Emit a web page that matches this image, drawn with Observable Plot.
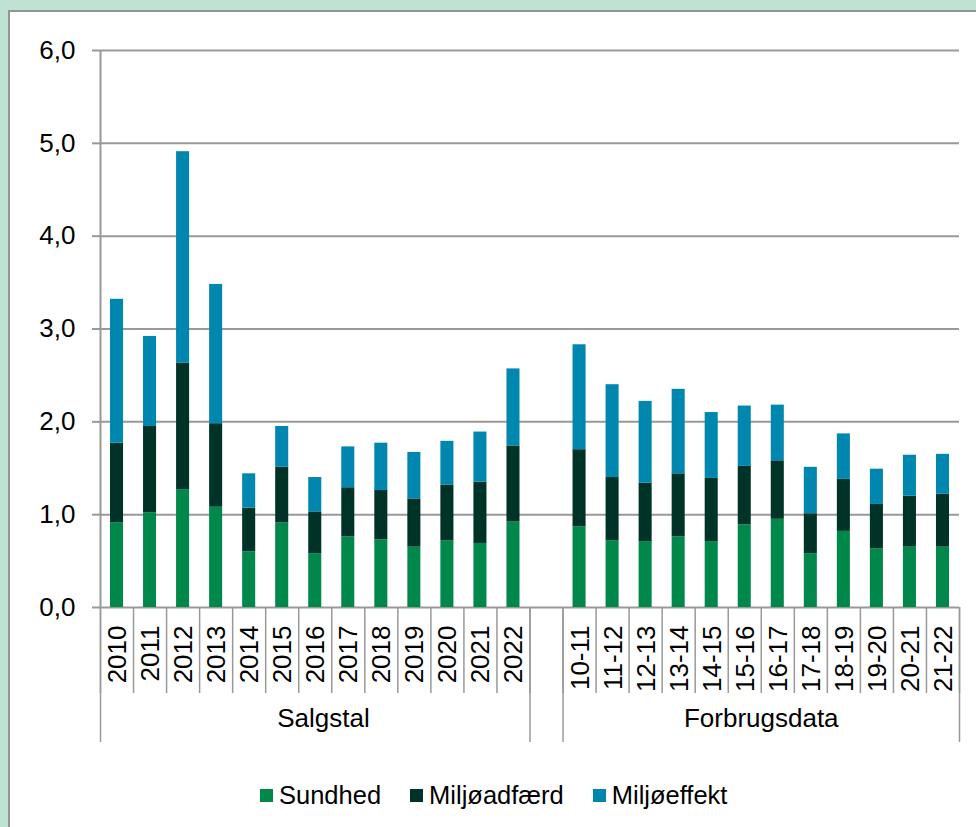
<!DOCTYPE html>
<html><head><meta charset="utf-8">
<script src="https://cdn.jsdelivr.net/npm/d3@7"></script>
<script src="https://cdn.jsdelivr.net/npm/@observablehq/plot@0.6"></script>
<style>
html,body{margin:0;padding:0;width:976px;height:827px;overflow:hidden;background:#bfe3d3;font-family:"Liberation Sans",Arial,sans-serif;}
#panel{position:absolute;left:8px;top:10px;right:0;bottom:0;background:#fff;border-left:2px solid #959595;border-top:2px solid #959595;}
#chart{position:absolute;left:0;top:0;}
#legend{position:absolute;left:260px;top:781px;display:flex;gap:29px;font-size:25.5px;color:#000;}
.item{display:flex;align-items:center;}
.sw{width:13px;height:13px;margin-right:6px;}
</style></head>
<body>
<div id="panel"></div>
<div id="chart"></div>
<div id="legend"></div>
<script>
// ---- data ----
const seriesNames = ["Sundhed", "Miljøadfærd", "Miljøeffekt"];
const seriesColors = ["#00884b", "#003328", "#0087af"];
const groupNames = ["Salgstal", "Forbrugsdata"];

const salgstalYears = ["2010","2011","2012","2013","2014","2015","2016","2017","2018","2019","2020","2021","2022"];
const salgSundhed     = [0.91,1.02,1.27,1.08,0.60,0.91,0.58,0.76,0.73,0.65,0.72,0.69,0.92];
const salgMiljoadfaerd = [0.86,0.93,1.36,0.90,0.47,0.60,0.45,0.53,0.53,0.52,0.60,0.66,0.82];
const salgMiljoeffekt  = [1.55,0.97,2.28,1.50,0.37,0.44,0.37,0.44,0.51,0.50,0.47,0.54,0.83];

const forbrugPeriods = ["10-11","11-12","12-13","13-14","14-15","15-16","16-17","17-18","18-19","19-20","20-21","21-22"];
const forbSundhed      = [0.87,0.72,0.71,0.76,0.71,0.89,0.95,0.58,0.82,0.63,0.65,0.65];
const forbMiljoadfaerd = [0.83,0.68,0.63,0.68,0.68,0.63,0.63,0.43,0.56,0.48,0.55,0.57];
const forbMiljoeffekt  = [1.13,1.00,0.88,0.91,0.71,0.65,0.60,0.50,0.49,0.38,0.44,0.43];

const yTicks = [0,1,2,3,4,5,6];

// ---- build table ----
const categories = [...salgstalYears, "", ...forbrugPeriods];
const data = [];
function addGroup(labels, vals, offset) {
  labels.forEach((c, k) => {
    seriesNames.forEach((s, j) => {
      data.push({i: offset + k, cat: c, series: s, value: vals[j][k]});
    });
  });
}
addGroup(salgstalYears, [salgSundhed, salgMiljoadfaerd, salgMiljoeffekt], 0);
addGroup(forbrugPeriods, [forbSundhed, forbMiljoadfaerd, forbMiljoeffekt], salgstalYears.length + 1);

const labelData = categories.map((c, i) => ({i, cat: c})).filter(d => d.cat !== "");
const groups = [
  {name: groupNames[0], start: 0, end: salgstalYears.length, labelSpanEnd: salgstalYears.length + 0.5},
  {name: groupNames[1], start: salgstalYears.length + 1, end: categories.length, labelSpanEnd: categories.length}
];
const itemBounds = d3.range(0, categories.length + 1);
const groupBounds = [...new Set(groups.flatMap(g => [g.start, g.end]))];

const gray = "#999999";

const chart = Plot.plot({
  width: 976,
  height: 760,
  marginLeft: 100,
  marginRight: 17,
  marginTop: 50,
  marginBottom: 153,
  style: {background: "none", fontFamily: "'Liberation Sans', Arial, sans-serif", fontSize: "26px", color: "#000", overflow: "visible"},
  x: {domain: [0, categories.length], axis: null},
  y: {domain: [0, 6], axis: null},
  color: {domain: seriesNames, range: seriesColors},
  marks: [
    Plot.ruleY(yTicks, {stroke: gray, strokeWidth: 2}),
    Plot.ruleX([0], {stroke: gray, strokeWidth: 2}),
    Plot.axisY({ticks: yTicks, tickSize: 8, tickPadding: 17, label: null,
      tickFormat: d => d.toFixed(1).replace(".", ","),
      stroke: gray, strokeWidth: 2, strokeOpacity: 1, fill: "#000", fontSize: 26}),
    Plot.rectY(data, Plot.stackY({
      x1: "i", x2: d => d.i + 1, y: "value", fill: "series", order: seriesNames,
      insetLeft: 10, insetRight: 10
    })),
    Plot.axisX({ticks: itemBounds, tickSize: 86, tickFormat: () => "", label: null,
      stroke: gray, strokeWidth: 1.5, strokeOpacity: 1}),
    Plot.axisX({ticks: groupBounds, tickSize: 135, tickFormat: () => "", label: null,
      stroke: gray, strokeWidth: 1.5, strokeOpacity: 1}),
    Plot.text(labelData, {x: d => d.i + 0.5, frameAnchor: "bottom", text: "cat",
      rotate: -90, textAnchor: "end", dx: 9, dy: 18, fontSize: 26, fill: "#000"}),
    Plot.text(groups, {x: d => (d.start + d.labelSpanEnd) / 2, frameAnchor: "bottom", text: "name",
      dy: 119, fontSize: 26, fill: "#000"})
  ]
});
document.getElementById("chart").appendChild(chart);

// legend
const legend = document.getElementById("legend");
seriesNames.forEach((s, j) => {
  const it = document.createElement("div");
  it.className = "item";
  const sw = document.createElement("span");
  sw.className = "sw";
  sw.style.background = seriesColors[j];
  const tx = document.createElement("span");
  tx.textContent = s;
  it.appendChild(sw); it.appendChild(tx);
  legend.appendChild(it);
});
</script>
</body></html>
